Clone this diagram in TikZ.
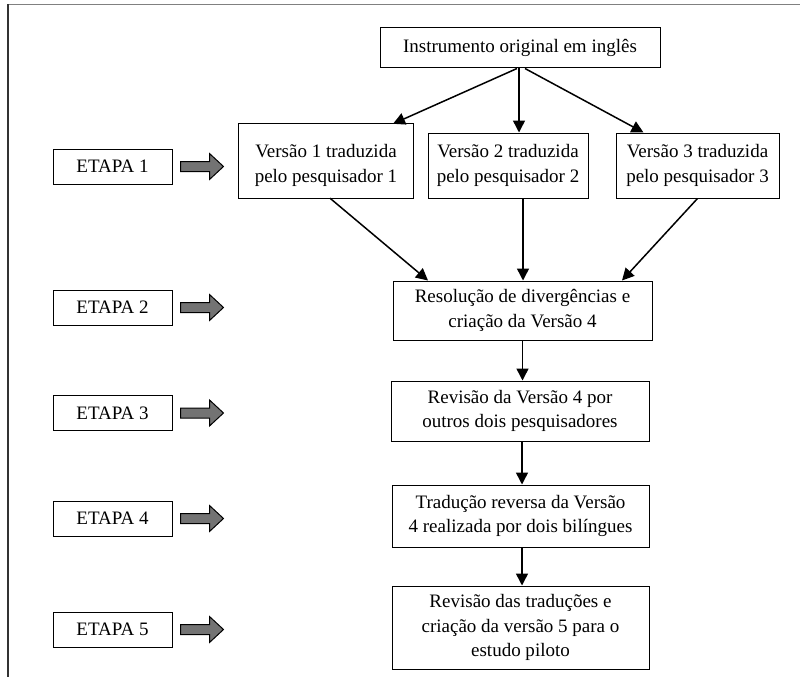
\documentclass[tikz,border=0pt]{standalone}
\usepackage{fontspec}
\setmainfont{Liberation Serif}
\usetikzlibrary{arrows.meta}
\begin{document}
\begin{tikzpicture}[x=1pt,y=-1pt,
  box/.style={draw, line width=1pt, inner sep=0pt, align=center,
    font=\fontsize{19}{24.5}\selectfont},
  plain/.style={inner sep=0pt, align=center, font=\fontsize{19}{24.5}\selectfont},
  conn/.style={line width=1.5pt, -{Triangle[length=12pt,width=12pt]}},
  grayarrow/.pic={\draw[fill=black!55, line width=1pt, line join=miter]
      (0,-5) -- (29,-5) -- (29,-13) -- (43,0) -- (29,13) -- (29,5) -- (0,5) -- cycle;}
]
\useasboundingbox (0,0) rectangle (800,677);
% frame
\draw[gray, line width=1.5pt] (8,4.5) -- (800,4.5);
\draw[black!80, line width=1.5pt] (8,4.5) -- (8,677);

% main column
\node[box, minimum width=280pt, minimum height=40pt] (top) at (520,48) {Instrumento original em inglês};
\node[plain, minimum width=174pt, minimum height=65pt] (v1) at (326,165.5) {Versão 1 traduzida\\pelo pesquisador 1};
\draw[line width=1pt] ([yshift=9pt]v1.north west) rectangle (v1.south east);
\node[box, minimum width=160pt, minimum height=65pt] (v2) at (508,165.5) {Versão 2 traduzida\\pelo pesquisador 2};
\node[box, minimum width=163pt, minimum height=65pt] (v3) at (697.5,165.5) {Versão 3 traduzida\\pelo pesquisador 3};
\node[box, minimum width=259pt, minimum height=59pt] (R) at (522.5,310.5) {Resolução de divergências e\\criação da Versão 4};
\node[box, minimum width=258pt, minimum height=60pt] (Rev) at (520,411) {Revisão da Versão 4 por\\outros dois pesquisadores};
\node[box, minimum width=257pt, minimum height=62pt] (T) at (520.5,516) {Tradução reversa da Versão\\4 realizada por dois bilíngues};
\node[box, minimum width=257pt, minimum height=83pt] (L) at (520.5,627.5) {Revisão das traduções e\\criação da versão 5 para o\\estudo piloto};

% stages
\node[box, minimum width=119pt, minimum height=35pt] (e1) at (112.5,166.5) {ETAPA 1};
\node[box, minimum width=119pt, minimum height=35pt] (e2) at (112.5,307.5) {ETAPA 2};
\node[box, minimum width=119pt, minimum height=35pt] (e3) at (112.5,413) {ETAPA 3};
\node[box, minimum width=119pt, minimum height=35pt] (e4) at (112.5,518.5) {ETAPA 4};
\node[box, minimum width=119pt, minimum height=35pt] (e5) at (112.5,629.5) {ETAPA 5};
\foreach \e in {e1,e2,e3,e4,e5}
  \pic at ([xshift=8pt]\e.east) {grayarrow};

% connectors
\draw[conn] ([xshift=-3pt]top.south) -- ([xshift=67pt,yshift=9pt]v1.north);
\draw[conn] ([xshift=-1pt]top.south) -- ([xshift=11pt]v2.north);
\draw[conn] ([xshift=5pt]top.south) -- ([xshift=-54pt]v3.north);
\draw[conn] ([xshift=4pt]v1.south) -- ([xshift=-94.5pt]R.north);
\draw[conn] ([xshift=15pt]v2.south) -- ([xshift=0.5pt]R.north);
\draw[conn] (v3.south) -- ([xshift=99.5pt]R.north);
\draw[conn] (R.south) -- (R.south |- Rev.north);
\draw[conn] ([xshift=2pt]Rev.south) -- ([xshift=2pt]Rev.south |- T.north);
\draw[conn] ([xshift=1.5pt]T.south) -- ([xshift=1.5pt]T.south |- L.north);
\end{tikzpicture}
\end{document}
